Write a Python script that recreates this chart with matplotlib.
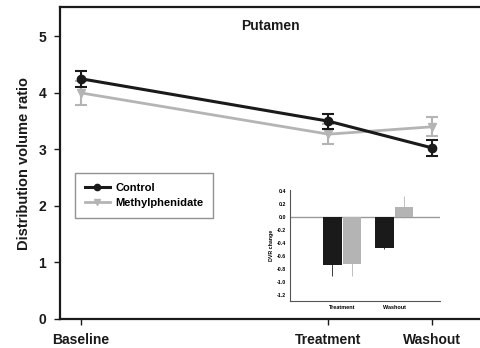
import matplotlib.pyplot as plt
from matplotlib.lines import Line2D

plt.rcParams['font.family'] = ['Liberation Sans', 'DejaVu Sans']
plt.rcParams['font.weight'] = 'bold'

# time points (weeks) and labels
weeks = [0, 12, 17]
phases = ["Baseline", "Treatment", "Washout"]

control = [4.25, 3.50, 3.03]
control_err = [0.14, 0.13, 0.14]
mph = [4.00, 3.27, 3.40]
mph_err = [0.21, 0.18, 0.17]

# inset: change in DVR
change_groups = ["Treatment", "Washout"]
change_control = [-0.74, -0.48]
change_control_err = [0.18, 0.02]
change_mph = [-0.72, 0.16]
change_mph_err = [0.20, 0.17]

gray = "#b4b4b4"
ink = "#1a1a1a"

fig = plt.figure(figsize=(4.81, 3.48), dpi=100)
ax = fig.add_axes([60/481, 29/348, 421/481, 312/348])

ax.errorbar(weeks, mph, yerr=mph_err, color=gray, marker="v", markersize=6,
            linewidth=2, capsize=4, capthick=1.5, elinewidth=1.5, zorder=2)
ax.errorbar(weeks, control, yerr=control_err, color=ink, marker="o", markersize=6,
            linewidth=2.2, capsize=4, capthick=1.5, elinewidth=1.5, zorder=3)

ax.set_xlim(-1.02, 19.4)
ax.set_ylim(0, 5.52)
ax.set_xticks(weeks)
ax.set_xticklabels(phases, fontsize=10, fontweight="bold", color=ink)
ax.set_yticks(range(6))
ax.set_yticklabels([str(v) for v in range(6)], fontsize=10, fontweight="bold", color=ink)
ax.tick_params(direction="out", length=4, width=1, color=ink, pad=6)
ax.set_ylabel("Distribution volume ratio", fontsize=10.5, fontweight="bold", color=ink, labelpad=5)
ax.spines["right"].set_visible(False)
for side in ["left", "bottom", "top"]:
    ax.spines[side].set_linewidth(1.6)
    ax.spines[side].set_color(ink)
ax.text(0.5, 0.94, "Putamen", transform=ax.transAxes, ha="center", va="center",
        fontsize=10, fontweight="bold", color=ink)

handles = [
    Line2D([], [], color=ink, marker="o", markersize=4.5, linewidth=2.2),
    Line2D([], [], color=gray, marker="v", markersize=4.5, linewidth=2),
]
leg = ax.legend(handles, ["Control", "Methylphenidate"], loc="upper left",
                bbox_to_anchor=(0.036, 0.468), fontsize=8, frameon=True,
                fancybox=False, edgecolor="#777777", handlelength=2.2,
                borderpad=0.9, labelspacing=0.45, handletextpad=0.5,
                borderaxespad=0)
leg.get_frame().set_linewidth(1)

# inset bar chart
ins = fig.add_axes([290/481, 47/348, 150/481, 111/348])
pos = range(len(change_groups))
w = 0.36
ins.bar([p - 0.19 for p in pos], change_control, width=w, color=ink,
        yerr=change_control_err, error_kw=dict(ecolor=ink, elinewidth=0.6, capsize=0))
ins.bar([p + 0.19 for p in pos], change_mph, width=w, color=gray,
        yerr=change_mph_err, error_kw=dict(ecolor=gray, elinewidth=0.6, capsize=0))
ins.axhline(0, color="#999999", linewidth=1, zorder=0)
ins.set_xlim(-1.0, 1.88)
ins.set_ylim(-1.3, 0.42)
ticks = [-1.2, -1.0, -0.8, -0.6, -0.4, -0.2, 0.0, 0.2, 0.4]
ins.set_yticks(ticks)
ins.set_yticklabels([f"{t:.1f}" for t in ticks], fontsize=3.8, fontweight="bold")
ins.set_xticks(list(pos))
ins.set_xticklabels(change_groups, fontsize=4, fontweight="bold")
ins.tick_params(length=0, pad=3)
ins.set_ylabel("DVR change", fontsize=3.8, fontweight="bold", labelpad=2)
ins.spines["top"].set_visible(False)
ins.spines["right"].set_visible(False)
ins.spines["left"].set_color("#555555")
ins.spines["bottom"].set_color("#555555")
ins.spines["left"].set_linewidth(0.8)
ins.spines["bottom"].set_linewidth(0.8)

fig.savefig("out.png", dpi=100)
